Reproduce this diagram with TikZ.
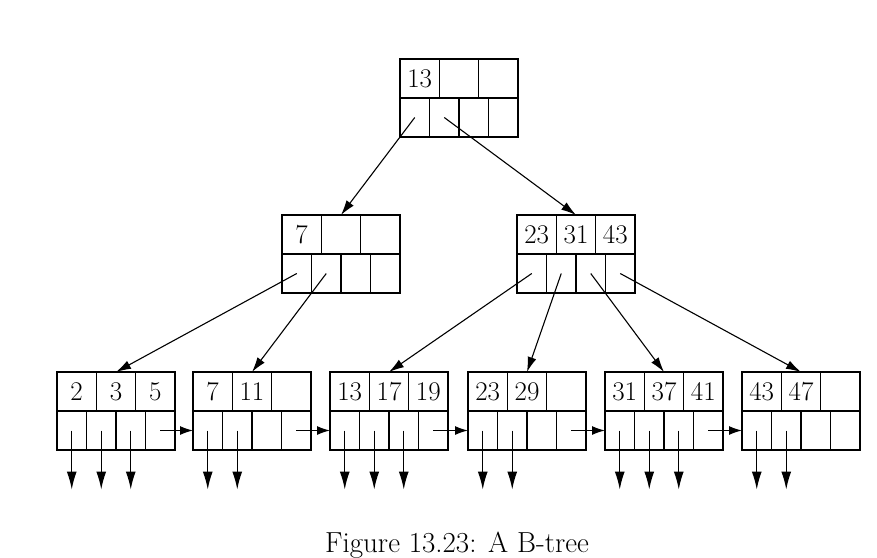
\documentclass[tikz,border=0pt]{standalone}
\usepackage{fontspec}
\setmainfont{Latin Modern Roman}
\usetikzlibrary{arrows.meta}
\tikzset{
  cellbase/.style={draw, line width=1.4pt, inner sep=0pt, outer sep=0pt, minimum height=39pt, anchor=north west},
  keycell/.style={cellbase, minimum width=39.33pt, font=\fontsize{27}{29}\selectfont},
  ptrcell/.style={cellbase, minimum width=29.5pt},
  treearrow/.style={line width=1.1pt, -{Latex[length=15pt,width=9pt]}},
  downarrow/.style={line width=1.2pt, -{Latex[length=18pt,width=10pt]}},
  linkarrow/.style={line width=1.2pt, -{Latex[length=13pt,width=9pt]}},
  captext/.style={font=\fontsize{29}{32}\selectfont, anchor=base}
}
\newcommand\btnode[6]{%
  \node[keycell] (#1k1) at (#2,#3) {#4};
  \node[keycell] (#1k2) at (#1k1.north east) {#5};
  \node[keycell] (#1k3) at (#1k2.north east) {#6};
  \node[ptrcell] (#1p1) at (#1k1.south west) {};
  \node[ptrcell] (#1p2) at (#1p1.north east) {};
  \node[ptrcell] (#1p3) at (#1p2.north east) {};
  \node[ptrcell] (#1p4) at (#1p3.north east) {};
}
\newcommand\downptr[2]{%
  \path (#1p#2.center) ++(0,59) coordinate (#1d#2);
  \draw[downarrow] (#1p#2.center) -- (#1d#2);
}
\begin{document}
\begin{tikzpicture}[x=1pt,y=-1pt]
\useasboundingbox (0,0) rectangle (877,557);
% root
\btnode{R}{400}{59}{13}{}{}
% internal
\btnode{A}{282}{215}{7}{}{}
\btnode{B}{517}{215}{23}{31}{43}
% leaves
\btnode{La}{57}{372}{2}{3}{5}
\btnode{Lb}{193}{372}{7}{11}{}
\btnode{Lc}{330}{372}{13}{17}{19}
\btnode{Ld}{468}{372}{23}{29}{}
\btnode{Le}{605}{372}{31}{37}{41}
\btnode{Lf}{742}{372}{43}{47}{}
% tree pointers
\draw[treearrow] (Rp1.center) -- (Ak2.north);
\draw[treearrow] (Rp2.center) -- (Bk2.north);
\draw[treearrow] (Ap1.center) -- (Lak2.north);
\draw[treearrow] (Ap2.center) -- (Lbk2.north);
\draw[treearrow] (Bp1.center) -- (Lck2.north);
\draw[treearrow] (Bp2.center) -- (Ldk2.north);
\draw[treearrow] (Bp3.center) -- (Lek2.north);
\draw[treearrow] (Bp4.center) -- (Lfk2.north);
% leaf links
\draw[linkarrow] (Lap4.center) -- (Lbp1.west);
\draw[linkarrow] (Lbp4.center) -- (Lcp1.west);
\draw[linkarrow] (Lcp4.center) -- (Ldp1.west);
\draw[linkarrow] (Ldp4.center) -- (Lep1.west);
\draw[linkarrow] (Lep4.center) -- (Lfp1.west);
% record pointers
\downptr{La}{1}\downptr{La}{2}\downptr{La}{3}
\downptr{Lb}{1}\downptr{Lb}{2}
\downptr{Lc}{1}\downptr{Lc}{2}\downptr{Lc}{3}
\downptr{Ld}{1}\downptr{Ld}{2}
\downptr{Le}{1}\downptr{Le}{2}\downptr{Le}{3}
\downptr{Lf}{1}\downptr{Lf}{2}
% caption
\node[captext] (cap) at (457,552) {Figure 13.23: A B-tree};
\end{tikzpicture}
\end{document}
